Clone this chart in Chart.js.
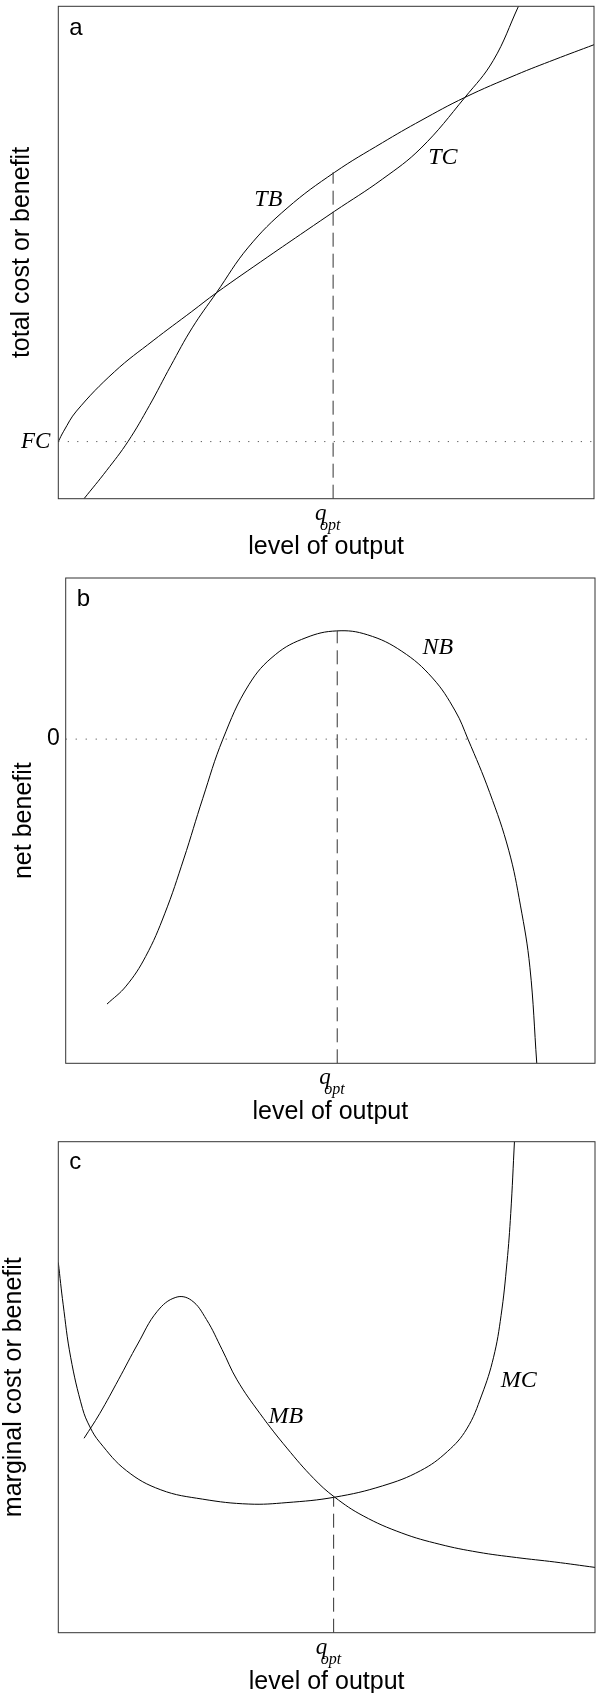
<!DOCTYPE html>
<html>
<head>
<meta charset="utf-8">
<script src="https://cdn.jsdelivr.net/npm/chart.js@4.4.0/dist/chart.umd.min.js"></script>
<style>
  html, body { margin: 0; padding: 0; background: #fff; overflow: hidden; }
  .panel { position: absolute; left: 0; width: 598px; }
</style>
</head>
<body>
<div class="panel" style="top:0;height:560px"><canvas id="chartA"></canvas></div>
<div class="panel" style="top:560px;height:565px"><canvas id="chartB"></canvas></div>
<div class="panel" style="top:1125px;height:568px"><canvas id="chartC"></canvas></div>
<script>
// level of output (x) runs 0..10 in every panel
const qOpt = 5.13;

// panel a: total cost and total benefit
const fcLevel = 1.16;
const tcX = [0, 0.1, 0.34, 1.05, 1.77, 2.49, 2.95, 3.91, 4.62, 5.16, 6.05, 6.77, 7.59, 8.12, 8.59];
const tcY = [1.16, 1.37, 1.78, 2.58, 3.21, 3.80, 4.18, 4.91, 5.44, 5.84, 6.49, 7.12, 8.15, 8.90, 10.0];
const tbX = [0.48, 0.9, 1.30, 1.7, 2.1, 2.5, 2.95, 3.55, 4.27, 5.16, 6.05, 6.77, 7.59, 8.55, 9.27, 10.0];
const tbY = [0, 0.57, 1.16, 1.89, 2.70, 3.47, 4.18, 5.11, 5.90, 6.63, 7.23, 7.68, 8.15, 8.61, 8.92, 9.22];
const qLineA = [0, 6.63];

// panel b: net benefit
const nbX = [0.78, 1.14, 1.51, 1.87, 2.23, 2.59, 2.97, 3.46, 3.96, 4.54, 5.12, 5.70, 6.35, 6.93, 7.36, 7.60, 8.01, 8.37, 8.59, 8.77, 8.90];
const nbY = [-5.46, -5.09, -4.48, -3.60, -2.47, -1.22, 0, 1.12, 1.74, 2.09, 2.23, 2.15, 1.81, 1.26, 0.58, 0, -1.10, -2.29, -3.42, -4.70, -6.68];
const nbRange = [-6.68, 3.32];
const qLineB = [-6.68, 2.23];

// panel c: marginal cost and marginal benefit
const mcX = [0, 0.09, 0.23, 0.45, 0.59, 0.77, 1.27, 1.91, 2.69, 3.55, 4.26, 5.15, 6.04, 6.75, 7.25, 7.61, 7.89, 8.11, 8.25, 8.36, 8.43, 8.50];
const mcY = [7.54, 6.69, 5.61, 4.57, 4.19, 3.88, 3.30, 2.91, 2.72, 2.62, 2.65, 2.76, 2.99, 3.30, 3.69, 4.15, 4.84, 5.61, 6.46, 7.54, 8.54, 10.02];
const mbX = [0.48, 0.77, 1.12, 1.48, 1.84, 2.19, 2.48, 2.76, 3.05, 3.33, 3.76, 4.26, 4.76, 5.15, 5.68, 6.40, 7.11, 7.82, 8.54, 9.25, 10.0];
const mbY = [3.96, 4.46, 5.15, 5.88, 6.54, 6.83, 6.77, 6.38, 5.77, 5.15, 4.46, 3.76, 3.14, 2.76, 2.38, 2.03, 1.80, 1.64, 1.53, 1.44, 1.33];
const qLineC = [0, 2.76];

const SANS = '"Liberation Sans", Arial, Helvetica, sans-serif';
const SERIF = '"Liberation Serif", "Times New Roman", serif';

const pts = (xs, ys) => xs.map((x, i) => ({ x: x, y: ys[i] }));

function curve(xs, ys) {
  return { data: pts(xs, ys), borderColor: '#000', borderWidth: 1, pointRadius: 0, showLine: true, tension: 0.4 };
}
function hline(v, dash) {
  return { data: [{ x: 0, y: v }, { x: 10, y: v }], borderColor: '#333', borderWidth: 1, borderDash: dash, pointRadius: 0, showLine: true };
}
function qline(ys) {
  return { data: [{ x: qOpt, y: ys[0] }, { x: qOpt, y: ys[1] }], borderColor: '#333', borderWidth: 1, borderDash: [14, 7], pointRadius: 0, showLine: true };
}

// frame, panel letter, curve names and the q_opt mark
const panelText = {
  id: 'panelText',
  afterDraw(chart, args, opts) {
    const { ctx, chartArea: a, scales: { x, y } } = chart;
    ctx.save();
    ctx.strokeStyle = '#333';
    ctx.lineWidth = 1;
    ctx.strokeRect(a.left, a.top, a.right - a.left, a.bottom - a.top);
    ctx.fillStyle = '#000';
    ctx.textBaseline = 'alphabetic';
    ctx.textAlign = 'left';
    ctx.font = '24px ' + SANS;
    ctx.fillText(opts.letter, a.left + opts.letterDx, a.top + opts.letterDy);
    ctx.textAlign = 'center';
    ctx.font = 'italic 24px ' + SERIF;
    opts.labels.forEach(l => ctx.fillText(l.text, x.getPixelForValue(l.x), y.getPixelForValue(l.y)));
    const qx = x.getPixelForValue(qOpt);
    ctx.textAlign = 'left';
    ctx.font = 'italic 23px ' + SERIF;
    ctx.fillText('q', qx - 18, a.bottom + 21);
    ctx.font = 'italic 16px ' + SERIF;
    ctx.fillText('opt', qx - 13, a.bottom + 31);
    ctx.restore();
  }
};

function makeChart(id, cfg) {
  return new Chart(document.getElementById(id), {
    type: 'scatter',
    data: { datasets: cfg.datasets },
    options: {
      responsive: true,
      maintainAspectRatio: false,
      animation: false,
      events: [],
      layout: { padding: { left: 0, top: cfg.padTop, right: cfg.padRight, bottom: 0 } },
      plugins: {
        legend: { display: false },
        tooltip: { enabled: false },
        panelText: cfg.text
      },
      scales: {
        x: {
          type: 'linear', min: 0, max: 10,
          ticks: { display: false },
          grid: { display: false, drawTicks: false },
          border: { display: false },
          title: { display: true, text: 'level of output', color: '#000',
                   font: { family: SANS, size: 25, lineHeight: 0.9 },
                   padding: { top: 0, bottom: cfg.xTitlePad } },
          afterFit(s) { s.height = cfg.xHeight; s.paddingLeft = 0; s.paddingRight = 0; }
        },
        y: {
          type: 'linear', min: cfg.yRange[0], max: cfg.yRange[1],
          afterBuildTicks(s) { s.ticks = cfg.yTick ? [{ value: cfg.yTick.value }] : []; },
          ticks: {
            display: !!cfg.yTick,
            callback: () => cfg.yTick ? cfg.yTick.text : '',
            font: cfg.yTick ? cfg.yTick.font : undefined,
            color: '#000',
            padding: cfg.yTick ? cfg.yTick.pad : 0
          },
          grid: { display: false, drawTicks: false },
          border: { display: false },
          title: { display: true, text: cfg.yTitle, color: '#000',
                   font: { family: SANS, size: 25, lineHeight: 0.9 },
                   padding: { top: cfg.yTitlePad, bottom: 0 } },
          afterFit(s) { s.width = cfg.yWidth; s.paddingTop = 0; s.paddingBottom = 0; }
        }
      }
    },
    plugins: [panelText]
  });
}

makeChart('chartA', {
  datasets: [hline(fcLevel, [1, 8.5]), qline(qLineA), curve(tcX, tcY), curve(tbX, tbY)],
  padTop: 6.3, padRight: 4, xHeight: 61.3, xTitlePad: 1.5, yWidth: 58.3, yTitlePad: 11,
  yRange: [0, 10], yTitle: 'total cost or benefit',
  yTick: { value: fcLevel, text: 'FC', pad: 8, font: { family: SERIF, style: 'italic', size: 23 } },
  text: { letter: 'a', letterDx: 11, letterDy: 29,
          labels: [{ text: 'TB', x: 3.92, y: 5.95 }, { text: 'TC', x: 7.18, y: 6.80 }] }
});

makeChart('chartB', {
  datasets: [hline(0, [1, 9]), qline(qLineB), curve(nbX, nbY)],
  padTop: 18, padRight: 3, xHeight: 61.7, xTitlePad: 1.2, yWidth: 65.7, yTitlePad: 13,
  yRange: nbRange, yTitle: 'net benefit',
  yTick: { value: 0, text: '0', pad: 6, font: { family: SANS, size: 23 } },
  text: { letter: 'b', letterDx: 11, letterDy: 28,
          labels: [{ text: 'NB', x: 7.03, y: 1.76 }] }
});

makeChart('chartC', {
  datasets: [qline(qLineC), curve(mcX, mcY), curve(mbX, mbY)],
  padTop: 16.7, padRight: 3, xHeight: 60.3, xTitlePad: 0, yWidth: 58.3, yTitlePad: 2.5,
  yRange: [0, 10], yTitle: 'marginal cost or benefit',
  yTick: null,
  text: { letter: 'c', letterDx: 11, letterDy: 27.6,
          labels: [{ text: 'MB', x: 4.24, y: 4.27 }, { text: 'MC', x: 8.58, y: 5.0 }] }
});
</script>
</body>
</html>
